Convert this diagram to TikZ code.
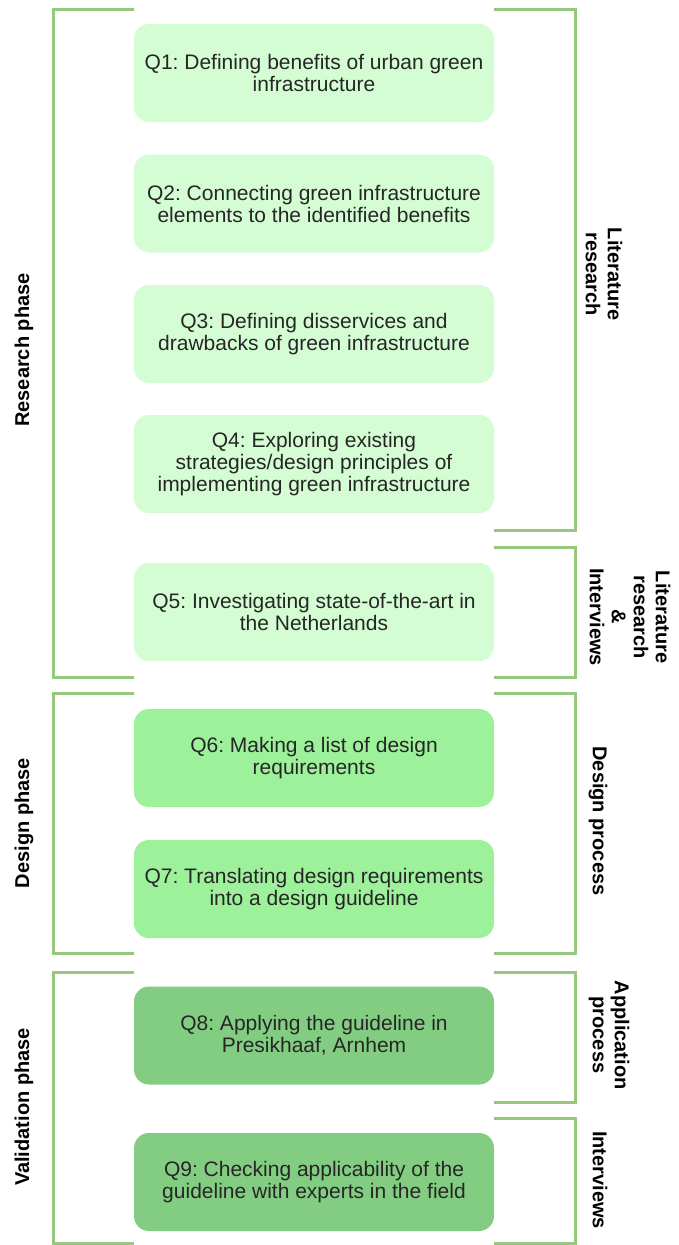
\documentclass[tikz,border=0pt]{standalone}
\usepackage{fontspec}
\setmainfont{Liberation Sans}
\usepackage{tikz}
\frenchspacing
\definecolor{rq-light}{RGB}{213,253,211}
\definecolor{rq-mid}{RGB}{157,241,155}
\definecolor{rq-dark}{RGB}{131,205,131}
\definecolor{rq-line}{RGB}{150,200,125}

\begin{document}
\begin{tikzpicture}[x=1pt, y=-1pt,
    qbox/.style={draw=none, rounded corners=15pt, minimum width=360pt,
        minimum height=98pt, inner sep=0, align=center, text=black!85,
        font=\fontsize{21}{22}\selectfont},
    phase/.style={rotate=90, align=center, font=\bfseries\fontsize{20}{22}\selectfont},
    method/.style={rotate=-90, align=center, font=\bfseries\fontsize{20}{22}\selectfont},
    bracketline/.style={draw=rq-line, line width=3pt}]

    \useasboundingbox (0,0) rectangle (678,1245);

    % Research phase: Q1 - Q5
    \node[qbox, fill=rq-light] (q1) at (314, 73)
        {Q1: Defining benefits of urban green\\infrastructure};
    \node[qbox, fill=rq-light] (q2) at (314, 203.5)
        {Q2: Connecting green infrastructure\\elements to the identified benefits};
    \node[qbox, fill=rq-light] (q3) at (314, 334)
        {Q3: Defining disservices and\\drawbacks of green infrastructure};
    \node[qbox, fill=rq-light] (q4) at (314, 464)
        {Q4: Exploring existing\\strategies/design principles of\\implementing green infrastructure};
    \node[qbox, fill=rq-light] (q5) at (314, 612)
        {Q5: Investigating state-of-the-art in\\the Netherlands};

    % Design phase: Q6 - Q7
    \node[qbox, fill=rq-mid] (q6) at (314, 758)
        {Q6: Making a list of design\\requirements};
    \node[qbox, fill=rq-mid] (q7) at (314, 889)
        {Q7: Translating design requirements\\into a design guideline};

    % Validation phase: Q8 - Q9
    \node[qbox, fill=rq-dark] (q8) at (314, 1035.5)
        {Q8: Applying the guideline in\\Presikhaaf, Arnhem};
    \node[qbox, fill=rq-dark] (q9) at (314, 1182)
        {Q9: Checking applicability of the\\guideline with experts in the field};

    % phase brackets on the left
    \draw[bracketline] (134, 9) -- (53, 9) -- (53, 677) -- (134, 677);
    \draw[bracketline] (134, 693) -- (53, 693) -- (53, 953) -- (134, 953);
    \draw[bracketline] (134, 972) -- (53, 972) -- (53, 1243) -- (134, 1243);

    \node[phase] (research) at (24, 350) {Research phase};
    \node[phase] (design) at (24, 823) {Design phase};
    \node[phase] (validation) at (24, 1107) {Validation phase};

    % method brackets on the right
    \draw[bracketline] (494, 9) -- (575, 9) -- (575, 530) -- (494, 530);
    \draw[bracketline] (494, 547) -- (575, 547) -- (575, 677) -- (494, 677);
    \draw[bracketline] (494, 693) -- (575, 693) -- (575, 953) -- (494, 953);
    \draw[bracketline] (494, 972) -- (575, 972) -- (575, 1102) -- (494, 1102);
    \draw[bracketline] (494, 1118) -- (575, 1118) -- (575, 1243) -- (494, 1243);

    \node[method] (lit) at (604, 274) {Literature\\research};
    \node[method] (litint) at (630, 617) {Literature\\research\\\&\\Interviews};
    \node[method] (designproc) at (598, 821) {Design process};
    \node[method] (applic) at (609, 1035) {Application\\process};
    \node[method] (interv) at (600, 1180) {Interviews};

\end{tikzpicture}
\end{document}
